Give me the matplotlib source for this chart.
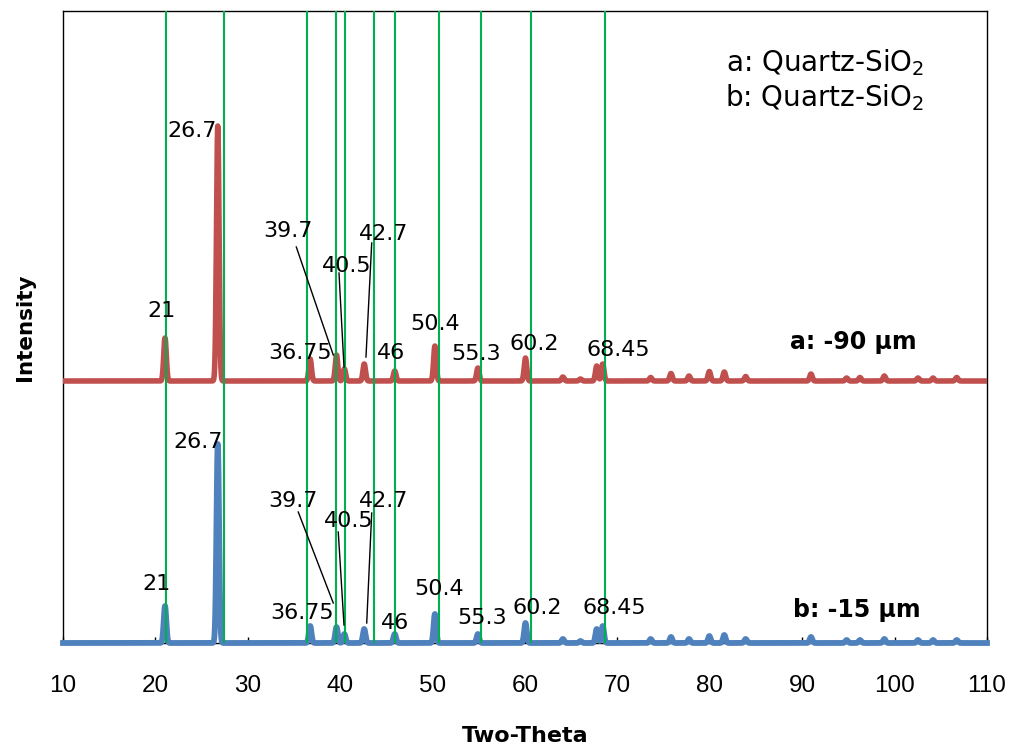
import numpy as np
import matplotlib
matplotlib.use("Agg")
import matplotlib.pyplot as plt

# peak table (two-theta, height in px above baseline)
peak_pos = [21.04, 26.75, 36.75, 39.6, 40.45, 42.6, 45.9, 50.25, 54.9, 60.05,
            64.1, 66.0, 67.76, 68.41, 73.6, 75.8, 77.75, 79.95, 81.57, 83.88,
            90.95, 94.81, 96.25, 98.89, 102.53, 104.16, 106.72]
peak_a = [43, 255, 22, 26, 12, 17, 10, 35, 13, 23,
          4, 2, 15, 17, 3.5, 7.5, 5, 9.5, 9, 4.5,
          7, 3, 3.5, 5, 3, 3, 3.5]
peak_b = [37, 199, 17, 16, 9, 14, 9, 29, 9, 20,
          4, 2, 14, 17, 4, 6, 4, 7, 8, 4,
          6, 3, 3, 4, 3, 3, 3]
offset_a = 262
offset_b = 0

# reference lines
ref_lines = [21.15, 27.4, 36.45, 39.5, 40.55, 43.7, 45.95, 50.7, 55.2, 60.6, 68.65]

# peak labels: text, x, y  (series a then b)
labels_a = [("21", 20.71, 332), ("26.7", 23.96, 512), ("36.75", 35.7, 290),
            ("39.7", 34.32, 412), ("40.5", 40.7, 377), ("42.7", 44.66, 409),
            ("46", 45.5, 290), ("50.4", 50.26, 319), ("55.3", 54.7, 289),
            ("60.2", 61.05, 299), ("68.45", 70.15, 293)]
labels_b = [("21", 20.17, 59), ("26.7", 24.61, 201), ("36.75", 35.83, 30),
            ("39.7", 34.84, 142), ("40.5", 40.88, 122), ("42.7", 44.72, 142),
            ("46", 45.93, 20), ("50.4", 50.75, 54), ("55.3", 55.35, 25),
            ("60.2", 61.35, 35), ("68.45", 69.65, 35)]
leaders_a = [((35.25, 396), (39.25, 288)), ((39.87, 370), (40.41, 276)),
             ((43.41, 400), (42.79, 286))]
leaders_b = [((35.46, 131), (39.25, 40)), ((39.79, 111), (40.41, 18)),
             ((43.41, 130), (42.87, 20))]

red = "#C0504D"
blue = "#4F81BD"
green = "#00B050"

tt = np.linspace(10, 110, 8001)


def pattern(heights, base):
    y = np.full_like(tt, base, dtype=float)
    for p, h in zip(peak_pos, heights):
        y += h * np.exp(-0.5 * ((tt - p) / 0.14) ** 2)
    return y


fig = plt.figure(figsize=(10.12, 7.49), dpi=100)
ax = fig.add_axes([63 / 1012, (749 - 643) / 749, (987 - 63) / 1012, (643 - 11) / 749])

ax.plot(tt, pattern(peak_a, offset_a), color=red, lw=4.0, zorder=3,
        solid_joinstyle="round")
ax.plot(tt, pattern(peak_b, offset_b), color=blue, lw=4.2, zorder=3,
        solid_joinstyle="round", clip_on=False)
for v in ref_lines:
    ax.axvline(v, color=green, lw=1.5, zorder=4)

for txt, x, y in labels_a + labels_b:
    ax.text(x, y, txt, ha="center", va="center", fontsize=16, zorder=5)
for (x0, y0), (x1, y1) in leaders_a + leaders_b:
    ax.plot([x0, x1], [y0, y1], color="black", lw=1.0, zorder=5)

ax.text(95.53, 301, "a: -90 µm", ha="center", va="center", fontsize=17,
        fontweight="bold", zorder=5)
ax.text(95.93, 33, "b: -15 µm", ha="center", va="center", fontsize=17,
        fontweight="bold", zorder=5)

ax.text(103.2, 580, "a: Quartz-SiO$_2$", ha="right", va="center", fontsize=20)
ax.text(103.2, 545, "b: Quartz-SiO$_2$", ha="right", va="center", fontsize=20)

ax.set_xlim(10, 110)
ax.set_ylim(0, 632)
ax.set_xticks(range(10, 111, 10))
ax.set_yticks([])
ax.tick_params(axis="x", direction="in", length=4, width=1, pad=23)
for lab in ax.get_xticklabels():
    lab.set_fontfamily("Liberation Sans")
    lab.set_fontsize(17.5)
for s in ax.spines.values():
    s.set_linewidth(1.0)
    s.set_color("black")

ax.set_xlabel("Two-Theta", fontsize=16, fontweight="bold", labelpad=21)
ax.set_ylabel("Intensity", fontsize=15.5, fontweight="bold", labelpad=20)

fig.savefig("out.png", dpi=100)
